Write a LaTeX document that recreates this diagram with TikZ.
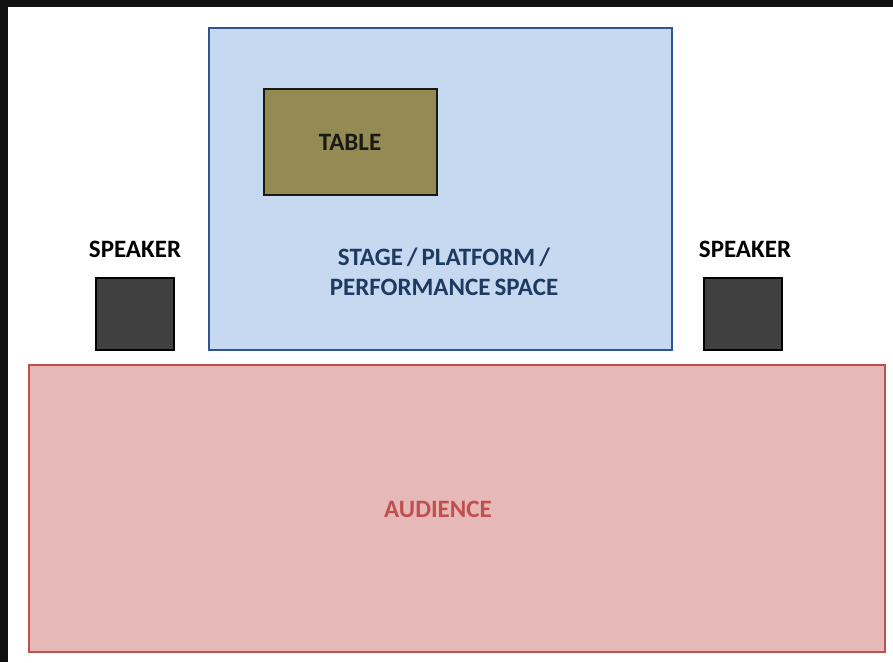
\documentclass[tikz,border=0pt]{standalone}
\usepackage{fontspec}
\setmainfont{Carlito}
\definecolor{bgdark}{HTML}{111111}
\definecolor{stagefill}{HTML}{C6D9F1}
\definecolor{stageline}{HTML}{2F5490}
\definecolor{stagetext}{HTML}{1F3A60}
\definecolor{tablefill}{HTML}{948A54}
\definecolor{tableline}{HTML}{1A1A14}
\definecolor{spkfill}{HTML}{404040}
\definecolor{audfill}{HTML}{E6B9B8}
\definecolor{audline}{HTML}{C0504D}
\begin{document}
\begin{tikzpicture}[x=1pt,y=-1pt,
  box/.style={draw, line width=2pt},
  lbl/.style={font=\fontsize{25}{30}\selectfont\bfseries, align=center, inner sep=0pt}]
\useasboundingbox (0,0) rectangle (893,662);
\fill[bgdark] (0,0) rectangle (893,662);
\fill[white] (8,7) rectangle (893,662);
% stage
\draw[box, stageline, fill=stagefill] (209,28) rectangle (672,350);
\node[lbl, text=stagetext, text width=300pt] (stage) at (444,272) {STAGE\hspace{4pt}/\hspace{4pt}PLATFORM\hspace{4pt}/\\PERFORMANCE\hspace{4pt}SPACE};
% table
\draw[box, tableline, fill=tablefill] (264,89) rectangle (437,195);
\node[lbl, text=tableline] (table) at (350,142) {TABLE};
% speakers
\draw[box, black, fill=spkfill] (96,278) rectangle (174,350);
\draw[box, black, fill=spkfill] (704,278) rectangle (782,350);
\node[lbl, text=black] (spkl) at (135,249) {SPEAKER};
\node[lbl, text=black] (spkr) at (745,249) {SPEAKER};
% audience
\draw[box, audline, fill=audfill] (29,365) rectangle (885,652);
\node[lbl, text=audline] (aud) at (438,509) {AUDIENCE};
\end{tikzpicture}
\end{document}
